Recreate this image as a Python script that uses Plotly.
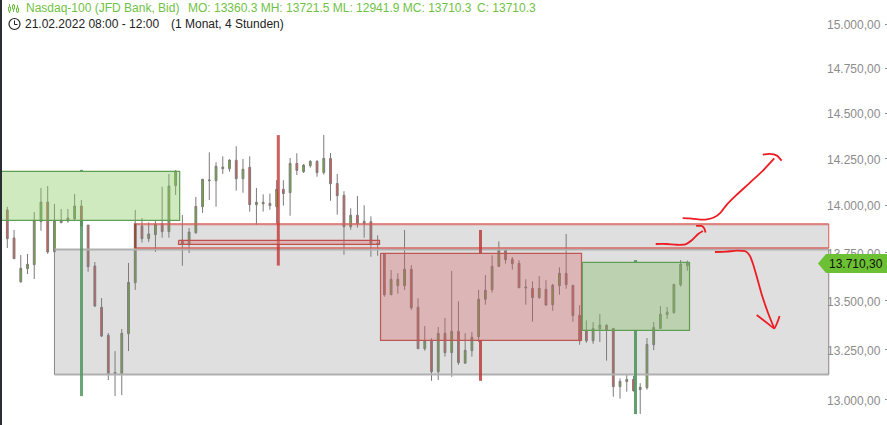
import plotly.graph_objects as go

highs = [14119,13992,13869,13737,13743,13964,14092,14103,14007,13980,13980,14060,14028,13895,13701,13514,13335,13244,13356,13696,13975,13932,13909,13916,14099,14168,14189,13948,13879,14044,14141,14285,14231,14263,14247,14318,14249,14263,14092,14058,14062,14134,14134,14254,14280,14222,14242,14242,14379,14281,14168,14075,13984,14049,14000,13941,13841,13743,13659,13642,13869,13685,13513,13371,13309,13366,13412,13654,13497,13335,13341,13556,13633,13736,13809,13762,13727,13710,13611,13600,13628,13607,13587,13673,13848,13580,13478,13400,13391,13432,13381,13359,13107,13129,13119,13083,13310,13391,13473,13468,13585,13711,13708]
opens = [13969,13975,13827,13598,13666,13687,13913,14017,13755,13907,13932,13927,13996,13895,13680,13467,13324,13137,13130,13332,13593,13890,13823,13844,13902,13860,14105,13814,13791,13854,13992,14131,14131,14196,14196,14242,14142,14204,14003,14016,14010,13992,14085,14067,14225,14180,14212,14236,14175,14252,14117,14053,13886,13947,13902,13913,13799,13743,13531,13578,13578,13663,13467,13256,13296,13140,13334,13236,13344,13183,13246,13317,13508,13557,13678,13762,13715,13694,13571,13564,13516,13559,13480,13578,13642,13580,13426,13349,13296,13357,13375,13359,13066,13091,13102,13051,13061,13276,13359,13429,13439,13583,13681,13682]
closes = [14119,13823,13718,13668,13689,13920,14017,13753,13920,13920,13916,13996,13890,13676,13473,13320,13130,13130,13334,13595,13904,13823,13848,13900,13860,14103,14182,13793,13858,13994,14139,14135,14209,14205,14243,14142,14193,14003,14016,14008,13998,14085,14062,14225,14187,14215,14236,14175,14252,14115,14051,13886,13947,13902,13915,13793,13793,13531,13611,13611,13663,13464,13256,13296,13140,13334,13236,13344,13186,13248,13314,13508,13554,13678,13762,13713,13692,13567,13567,13516,13564,13478,13580,13642,13583,13424,13296,13296,13359,13376,13351,13066,13092,13102,13046,13063,13278,13364,13431,13442,13585,13690,13697]
lows = [13948,13774,13718,13593,13638,13612,13865,13743,13748,13907,13907,13916,13890,13650,13468,13315,13099,13019,13024,13244,13556,13802,13805,13753,13828,13828,14055,13681,13748,13849,13959,14028,13992,14168,14180,14078,14067,13966,13897,13966,13976,13902,13998,13944,14162,14173,14202,14153,14164,14024,13950,13739,13870,13881,13828,13728,13734,13521,13531,13536,13556,13453,13256,13246,13095,13099,13216,13115,13175,13183,13216,13290,13480,13542,13678,13692,13661,13567,13480,13393,13511,13475,13449,13531,13562,13393,13276,13286,13281,13290,13196,13016,13006,13041,13041,12931,13051,13249,13359,13407,13434,13573,13655]
tick_values = [13000,13250,13500,13750,14000,14250,14500,14750,15000]

# higher-timeframe zones: [left bar, right bar, top price, bottom price]
green_zone_1 = [-1, 26.6, 14182, 13920]
green_wick_1 = [12.02, 14190, 13019]
gray_zone = [8, 123, 13766, 13126]
red_band = [20, 123, 13900, 13774]
red_strip = [26.43, 56.28, 13814, 13793]
red_wick_1 = [41.25, 14379, 13682]
red_zone = [56.43, 86.28, 13746, 13298]
red_wick_2 = [71.28, 13869, 13095]
green_zone_2 = [86.4, 102.32, 13699, 13349]
green_wick_2 = [94.3, 13711, 12930]

# hand-drawn arrows
arrow_up_x = [101.3,102.4,103.6,104.9,106.0,106.9,107.8,109.3,111.3,113.3,114.9]
arrow_up_y = [13932,13930,13925,13925,13936,13960,14001,14055,14121,14189,14252]
arrow_up_head_x = [113.2,114.2,115.3,116.0]
arrow_up_head_y = [14272,14276,14267,14240]
arrow_mid_x = [97.3,98.9,100.4,101.7,102.7,103.6,104.3]
arrow_mid_y = [13795,13795,13791,13793,13816,13848,13864]
arrow_mid_head_x = [103.3,104.1,104.5,104.7]
arrow_mid_head_y = [13890,13890,13878,13856]
arrow_down_x = [106.1,107.8,109.3,110.7,111.3,111.8,112.3,113.0,114.0,114.9]
arrow_down_y = [13753,13755,13760,13756,13732,13685,13625,13538,13436,13359]
arrow_down_head_x = [112.3,113.8,114.9,115.4,115.7]
arrow_down_head_y = [13427,13388,13359,13393,13422]

n = min(len(highs), len(opens), len(closes), len(lows))
bars = list(range(n))

W, H = 887, 425

fig = go.Figure()

def zone(z, fill, color=None, width=1):
    x0, x1, t, b = z
    fig.add_trace(go.Scatter(x=[x0, x1, x1, x0, x0], y=[t, t, b, b, t], mode="lines",
                             fill="toself", fillcolor=fill,
                             line=dict(color=color or "rgba(0,0,0,0)", width=width),
                             hoverinfo="skip", showlegend=False))

def seg(xs, ys, color, width):
    fig.add_trace(go.Scatter(x=xs, y=ys, mode="lines", line=dict(color=color, width=width),
                             hoverinfo="skip", showlegend=False, connectgaps=False))

# gray zone
zone(gray_zone, "rgba(128,128,128,0.25)")
x0, x1, t, b = gray_zone
seg([x0, x1, None, x0, x1], [t, t, None, b, b], "#b0b0b0", 2)
seg([x0, x0, None, x1, x1], [t, b, None, t, b], "#8a8585", 1)
# red band
zone(red_band, "rgba(128,128,128,0.25)")
x0, x1, t, b = red_band
seg([x0, x1, None, x0, x1], [t, t, None, b, b], "rgba(216,90,84,0.7)", 2.2)
seg([x0, x0], [t, b], "rgba(160,50,45,0.75)", 2)
seg([x1, x1], [t, b], "#e25a55", 1)

zone(green_zone_1, "rgba(137,202,95,0.4)", "#5f9e55", 1.2)
zone(red_strip, "rgba(214,90,90,0.3)", "#bf504c", 1.2)
zone(red_zone, "rgba(215,89,89,0.3)", "#bc5753", 1.2)
zone(green_zone_2, "rgba(134,187,102,0.4)", "#5f9e55", 1.2)

fig.add_trace(go.Candlestick(
    x=bars, open=opens[:n], high=highs[:n], low=lows[:n], close=closes[:n],
    increasing=dict(line=dict(color="#7f7a7a", width=1), fillcolor="#66b82a"),
    decreasing=dict(line=dict(color="#7f7a7a", width=1), fillcolor="#e8534f"),
    whiskerwidth=0, hoverinfo="skip", showlegend=False))

# higher-timeframe wicks
def wick(w, top, bottom, color):
    x, h, l = w
    seg([x, x, None, x, x], [h, top, None, bottom, l], color, 3)

wick(green_wick_1, green_zone_1[2], green_zone_1[3], "rgba(80,150,95,0.85)")
wick(red_wick_1, red_strip[2], red_strip[3], "rgba(196,60,58,0.82)")
seg([red_wick_1[0]] * 2, red_strip[2:], "rgba(196,60,58,0.55)", 3)
wick(red_wick_2, red_zone[2], red_zone[3], "rgba(186,62,60,0.85)")
wick(green_wick_2, green_zone_2[2], green_zone_2[3], "rgba(80,150,95,0.9)")

# arrows
for xs, ys in [(arrow_up_x, arrow_up_y), (arrow_up_head_x, arrow_up_head_y),
               (arrow_mid_x, arrow_mid_y), (arrow_mid_head_x, arrow_mid_head_y),
               (arrow_down_x, arrow_down_y), (arrow_down_head_x, arrow_down_head_y)]:
    fig.add_trace(go.Scatter(x=xs, y=ys, mode="lines",
                             line=dict(color="#ee1c22", width=1.8, shape="spline", smoothing=0.6),
                             hoverinfo="skip", showlegend=False))

GREEN = "#70c244"
def label(x, y, text, color, size=12):
    fig.add_annotation(xref="paper", yref="paper", x=x / W, y=1 - y / H, text=text, showarrow=False,
                       xanchor="left", yanchor="middle", xshift=-2, align="left",
                       font=dict(family="Liberation Sans, Arial, sans-serif", size=size, color=color))

label(25.5, 7.5, "Nasdaq-100 (JFD Bank, Bid)", GREEN)
label(188, 7.5, "MO: 13360.3 MH: 13721.5 ML: 12941.9 MC: 13710.3", GREEN)
label(477, 7.5, "C: 13710.3", GREEN)
label(25, 24, "21.02.2022 08:00 - 12:00", "#222222")
label(171, 24, "(1 Monat, 4 Stunden)", "#222222")
label(829, 263.5, "13.710,30", "#111111")

shapes = []
def pline(x0, y0, x1, y1, color, w=1):
    shapes.append(dict(type="line", xref="paper", yref="paper", x0=x0 / W, x1=x1 / W,
                       y0=1 - y0 / H, y1=1 - y1 / H, line=dict(color=color, width=w), layer="above"))

# left window edge
shapes.append(dict(type="rect", xref="paper", yref="paper", x0=0, x1=2 / W, y0=0, y1=1,
                   fillcolor="#2a2e33", line=dict(width=0), layer="above"))
# price tag
tag = "M %f,%f L %f,%f L %f,%f L %f,%f L %f,%f Z" % (
    818 / W, 1 - 263.5 / H, 826 / W, 1 - 254 / H, 1, 1 - 254 / H, 1, 1 - 273 / H, 826 / W, 1 - 273 / H)
shapes.append(dict(type="path", xref="paper", yref="paper", path=tag,
                   fillcolor="#6cc033", line=dict(width=0), layer="above"))
# chart icon
for x, y0, y1, bt, bb in [(9.5, 4, 13, 7, 11), (13.5, 4, 12, 5, 9), (17.5, 5, 13, 8, 12)]:
    pline(x, y0, x, y1, GREEN, 1)
    shapes.append(dict(type="rect", xref="paper", yref="paper", x0=(x - 1) / W, x1=(x + 1) / W,
                       y0=1 - bb / H, y1=1 - bt / H, fillcolor="white",
                       line=dict(color=GREEN, width=1), layer="above"))
# clock icon
shapes.append(dict(type="circle", xref="paper", yref="paper", x0=9 / W, x1=20 / W,
                   y0=1 - 29.5 / H, y1=1 - 18.5 / H, line=dict(color="#222222", width=1.2), layer="above"))
pline(14.5, 20.5, 14.5, 24.5, "#222222")
pline(14.5, 24.5, 17.5, 24.5, "#222222")

fig.update_layout(
    width=W, height=H, autosize=False, margin=dict(l=0, r=0, t=0, b=0),
    paper_bgcolor="white", plot_bgcolor="white", separators=",.", showlegend=False,
    shapes=shapes, boxgap=0.62,
    xaxis=dict(range=[-0.085, 131.65], visible=False, rangeslider=dict(visible=False), fixedrange=True),
    yaxis=dict(type="log", range=[4.109801, 4.180058], side="right", tickmode="array",
               tickvals=tick_values, tickformat=",.2f", ticklabelposition="inside",
               ticks="inside", ticklen=2, tickcolor="#8c8c8c", tickwidth=1, showgrid=False, zeroline=False,
               showline=False, fixedrange=True, ticklabelstandoff=4, ticklabelshift=1,
               tickfont=dict(family="Liberation Sans, Arial, sans-serif", size=12, color="#8c8c8c")),
)
fig.write_html("out.html", config=dict(displayModeBar=False),
               post_script="document.body.style.margin='0';")
